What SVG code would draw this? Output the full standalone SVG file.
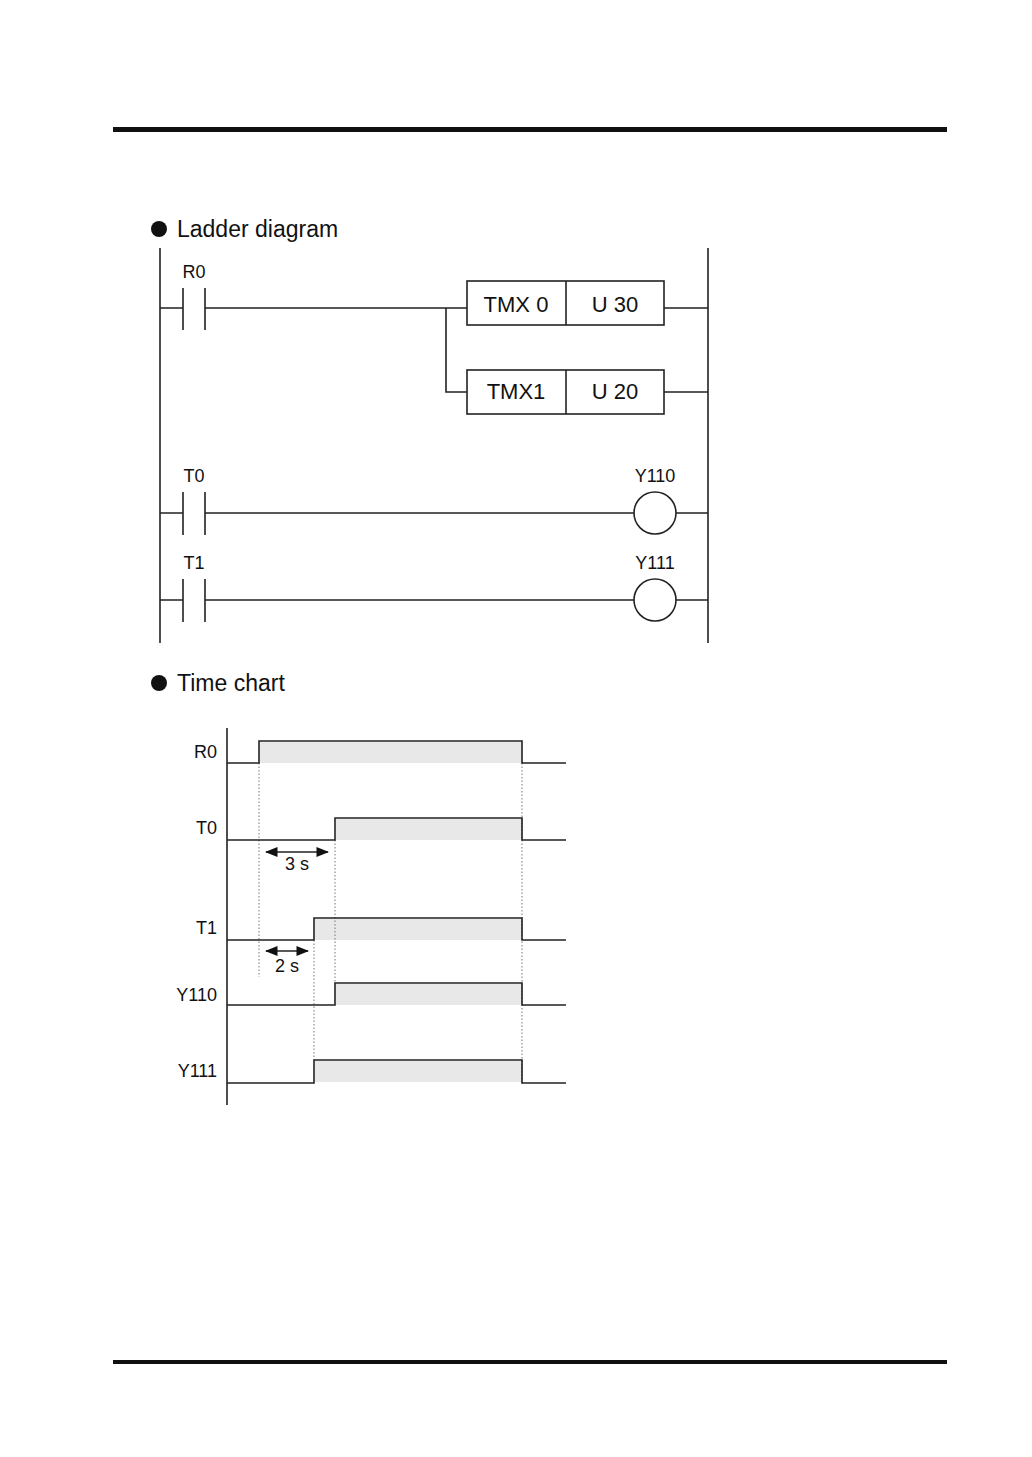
<svg xmlns="http://www.w3.org/2000/svg" width="1032" height="1457" viewBox="0 0 1032 1457">
<style>
text{font-family:"Liberation Sans",Arial,sans-serif;fill:#111}
.l{stroke:#222;stroke-width:1.6;fill:none}
.d{stroke:#777;stroke-width:1;stroke-dasharray:1.5 2;fill:none}
.sh{fill:#e8e8e8}
.t{font-size:18px}
.s{font-size:18px}
.h{font-size:23px}
.b{font-size:22px}
</style>
<defs><marker id="a" viewBox="0 0 10 10" refX="9" refY="5" markerWidth="8" markerHeight="8" orient="auto-start-reverse"><path d="M0,1L10,5L0,9z" fill="#111"/></marker></defs>
<rect width="1032" height="1457" fill="#fff"/>
<rect x="113" y="127" width="834" height="5" fill="#111"/>
<rect x="113" y="1360" width="834" height="4" fill="#111"/>
<circle cx="159" cy="229" r="8" fill="#111"/>
<text x="177" y="237" class="h">Ladder diagram</text>
<circle cx="159" cy="683" r="8" fill="#111"/>
<text x="177" y="691" class="h">Time chart</text>
<g id="rails"><path class="l" d="M160,248V643M708,248V643"/></g>
<g id="R0"><path class="l" d="M183,288V330M205,288V330"/><text x="194" y="278" class="t" text-anchor="middle">R0</text></g>
<g id="TMX0"><rect class="l" x="467" y="281" width="197" height="44"/><path class="l" d="M566,281V325"/><text x="516" y="312" class="b" text-anchor="middle">TMX 0</text><text x="615" y="312" class="b" text-anchor="middle">U 30</text></g>
<g id="TMX1"><rect class="l" x="467" y="370" width="197" height="44"/><path class="l" d="M566,370V414"/><text x="516" y="399" class="b" text-anchor="middle">TMX1</text><text x="615" y="399" class="b" text-anchor="middle">U 20</text></g>
<g id="T0"><path class="l" d="M183,492V535M205,492V535"/><text x="194" y="482" class="t" text-anchor="middle">T0</text></g>
<g id="T1"><path class="l" d="M183,579V622M205,579V622"/><text x="194" y="569" class="t" text-anchor="middle">T1</text></g>
<g id="Y110"><circle class="l" cx="655" cy="513" r="21"/><text x="655" y="482" class="t" text-anchor="middle">Y110</text></g>
<g id="Y111"><circle class="l" cx="655" cy="600" r="21"/><text x="655" y="569" class="t" text-anchor="middle">Y111</text></g>
<g id="connectors"><path class="l" d="M160,308H183M205,308H467M446,308V392H467M664,308H708M664,392H708M160,513H183M205,513H634M676,513H708M160,600H183M205,600H634M676,600H708"/></g>
<g id="timechart">
<rect class="sh" x="260" y="742" width="262" height="21"/>
<rect class="sh" x="336" y="819" width="186" height="21"/>
<rect class="sh" x="315" y="919" width="207" height="21"/>
<rect class="sh" x="336" y="984" width="186" height="21"/>
<rect class="sh" x="315" y="1061" width="207" height="21"/>
<path class="d" d="M259,763V977M335,840V983M314,940V1060M522,763V1083"/>
<path class="l" d="M227,728V1105"/>
<path class="l" d="M227,763H259V741H522V763H566M227,840H335V818H522V840H566M227,940H314V918H522V940H566M227,1005H335V983H522V1005H566M227,1083H314V1060H522V1083H566"/>
<path class="l" stroke-width="1.3" d="M266,852H328" marker-start="url(#a)" marker-end="url(#a)"/>
<path class="l" stroke-width="1.3" d="M266,951H308" marker-start="url(#a)" marker-end="url(#a)"/>
<text x="297" y="870" class="s" text-anchor="middle">3 s</text>
<text x="287" y="972" class="s" text-anchor="middle">2 s</text>
<text x="217" y="758" class="t" text-anchor="end">R0</text>
<text x="217" y="834" class="t" text-anchor="end">T0</text>
<text x="217" y="934" class="t" text-anchor="end">T1</text>
<text x="217" y="1001" class="t" text-anchor="end">Y110</text>
<text x="217" y="1077" class="t" text-anchor="end">Y111</text>
</g>
</svg>
